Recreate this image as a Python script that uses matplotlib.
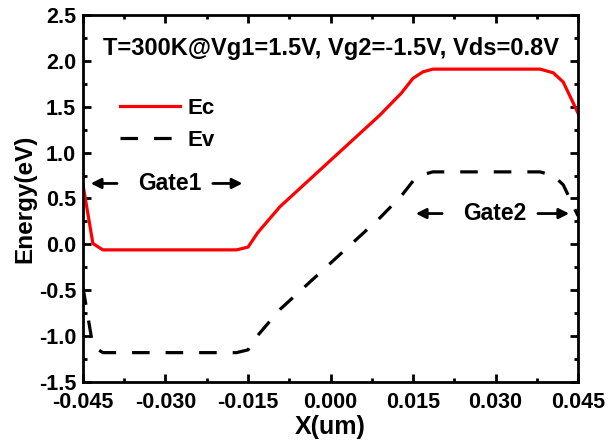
import numpy as np
import matplotlib
matplotlib.use("Agg")
import matplotlib.pyplot as plt
from matplotlib.ticker import MultipleLocator

plt.rcParams['font.family'] = ['Liberation Sans', 'DejaVu Sans']
plt.rcParams['font.weight'] = 'bold'
plt.rcParams['axes.unicode_minus'] = False

# data
ec_x = [-0.045, -0.0432, -0.0414, -0.0171, -0.0150, -0.0132, -0.0092,
        0.0090, 0.0129, 0.0150, 0.0168, 0.0186, 0.0381, 0.0405, 0.0423, 0.0439, 0.045]
ec_y = [0.65, 0.01, -0.06, -0.06, -0.03, 0.13, 0.41,
        1.41, 1.65, 1.81, 1.88, 1.91, 1.91, 1.87, 1.77, 1.57, 1.43]

ev_x = [-0.045, -0.0432, -0.0414, -0.0171, -0.0150, -0.0132, -0.0092,
        0.0090, 0.0129, 0.0150, 0.0168, 0.0186, 0.0381, 0.0405, 0.0423, 0.0439, 0.045]
ev_y = [-0.47, -1.11, -1.18, -1.18, -1.15, -0.99, -0.71,
        0.29, 0.53, 0.69, 0.76, 0.79, 0.79, 0.75, 0.65, 0.45, 0.31]

xtick_vals = [-0.045, -0.030, -0.015, 0.000, 0.015, 0.030, 0.045]
xtick_lbls = ["-0.045", "-0.030", "-0.015", "0.000", "0.015", "0.030", "0.045"]

title_txt = "T=300K@Vg1=1.5V, Vg2=-1.5V, Vds=0.8V"

fig = plt.figure(figsize=(6.08, 4.41), dpi=100)
ax = fig.add_axes([0.1365, 0.1338, 0.8142, 0.8322])

ax.plot(ec_x, ec_y, color='#ff0000', lw=2.3, label='Ec')
ax.plot(ev_x, ev_y, color='black', lw=2.3, dashes=(5.5, 5), label='Ev')

ax.set_xlim(-0.045, 0.045)
ax.set_ylim(-1.5, 2.5)
ax.set_xticks(xtick_vals)
ax.set_xticklabels(xtick_lbls)
ax.xaxis.set_minor_locator(MultipleLocator(0.0075))
ax.yaxis.set_major_locator(MultipleLocator(0.5))
ax.yaxis.set_minor_locator(MultipleLocator(0.25))

ax.tick_params(which='both', direction='in', top=True, right=True, width=2,
               labelsize=15.5)
ax.tick_params(axis='x', pad=7.5)
ax.tick_params(axis='y', pad=5)
ax.tick_params(which='major', length=6)
ax.tick_params(which='minor', length=3)
for lbl in ax.get_xticklabels() + ax.get_yticklabels():
    lbl.set_fontweight('bold')
for s in ax.spines.values():
    s.set_linewidth(2)

ax.set_xlabel("X(um)", fontsize=18, fontweight='bold', labelpad=1)
ax.set_ylabel("Energy(eV)", fontsize=17.5, fontweight='bold', labelpad=2)

ax.text(0.0, 2.13, title_txt, ha='center', va='center', fontsize=17, fontweight='bold')

leg = ax.legend(loc='upper left', bbox_to_anchor=(0.0747, 0.775), frameon=False,
                prop={'size': 16, 'weight': 'bold'}, handlelength=2.7,
                handletextpad=0.32, labelspacing=0.5, borderpad=0, borderaxespad=0)

arw = dict(arrowstyle='-|>', color='black', lw=2, mutation_scale=15)
# Gate1
ax.annotate("", xy=(-0.0441, 0.664), xytext=(-0.0383, 0.664), arrowprops=arw)
ax.text(-0.0293, 0.664, "Gate1", ha='center', va='center', fontsize=16.5, fontweight='bold')
ax.annotate("", xy=(-0.0155, 0.664), xytext=(-0.0219, 0.664), arrowprops=arw)
# Gate2
ax.annotate("", xy=(0.0150, 0.336), xytext=(0.0208, 0.336), arrowprops=arw)
ax.text(0.0298, 0.336, "Gate2", ha='center', va='center', fontsize=16.5, fontweight='bold')
ax.annotate("", xy=(0.0439, 0.336), xytext=(0.0372, 0.336), arrowprops=arw)

fig.savefig("out.png", dpi=100)
